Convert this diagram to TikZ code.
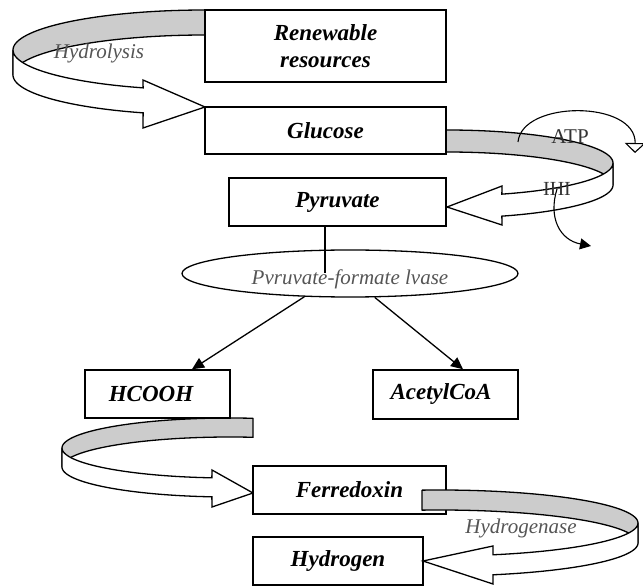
\documentclass[tikz,border=0pt]{standalone}
\usepackage{fontspec}
\setmainfont{Liberation Serif}
\usetikzlibrary{arrows.meta,shapes.geometric}
\definecolor{bandgray}{HTML}{CCCCCC}
\definecolor{labgray}{HTML}{555555}
\definecolor{atpgray}{HTML}{333333}
\begin{document}
\begin{tikzpicture}[x=1pt,y=-1pt,
  box/.style={draw=black, line width=1.5pt, fill=white, rectangle, inner sep=0pt,
    font=\fontsize{23}{27}\selectfont\bfseries\itshape, align=center},
  band/.style={draw=black, line width=1.3pt, fill=bandgray, line join=round},
  front/.style={draw=black, line width=1.3pt, fill=white, line join=miter},
  lab/.style={font=\fontsize{21}{25}\selectfont\itshape, text=labgray, inner sep=0pt},
  conn/.style={draw=black, line width=1.3pt, -{Triangle[length=12pt,width=11pt]}},
  thinarrow/.style={draw=black, line width=1.1pt},
  pl/.style={samples=40, variable=\t}
]
\useasboundingbox (0,0) rectangle (643,588);

% ribbon 1: Renewable resources -> Glucose (Hydrolysis)
\path[band] plot[pl, domain=275:180] ({205+192*cos(\t)},{50+40*sin(\t)})
  -- plot[pl, domain=180:275] ({205+192*cos(\t)},{75+40*sin(\t)}) -- cycle;
\path[front] plot[pl, domain=180:108.8] ({205+192*cos(\t)},{50+40*sin(\t)})
  -- (143,80) -- (205,107) -- (143,128)
  -- plot[pl, domain=108.8:180] ({205+192*cos(\t)},{75+40*sin(\t)}) -- cycle;

% ribbon 2: Glucose -> Pyruvate
\path[band] plot[pl, domain=265:360] ({447+166*cos(\t)},{163+33*sin(\t)})
  -- plot[pl, domain=360:265] ({447+166*cos(\t)},{185+33*sin(\t)}) -- cycle;
\path[front] plot[pl, domain=0:70.7] ({447+166*cos(\t)},{163+33*sin(\t)})
  -- (502,186) -- (447,207) -- (502,225)
  -- plot[pl, domain=70.7:0] ({447+166*cos(\t)},{185+33*sin(\t)}) -- cycle;

% ribbon 3: HCOOH -> Ferredoxin
\path[band] plot[pl, domain=277.9:180] ({230+168*cos(\t)},{448+30*sin(\t)})
  -- plot[pl, domain=180:277.9] ({230+168*cos(\t)},{467+30*sin(\t)}) -- cycle;
\path[front] plot[pl, domain=180:96.2] ({230+168*cos(\t)},{448+30*sin(\t)})
  -- (212,470) -- (253,493) -- (212,507)
  -- plot[pl, domain=96.2:180] ({230+168*cos(\t)},{467+30*sin(\t)}) -- cycle;

% boxes
\node[box, minimum width=241pt, minimum height=72pt] (ren) at (325.5,46) {Renewable\\resources};
\node[box, minimum width=241pt, minimum height=47pt] (glu) at (325.5,130.5) {Glucose};
\node[box, minimum width=217pt, minimum height=48pt] (pyr) at (337.5,202) {Pyruvate};
\node[draw=black, ellipse, line width=1.3pt, fill=white, minimum width=336pt, minimum height=47pt,
  inner sep=0pt, text height=23pt, text depth=0pt,
  font=\fontsize{21}{25}\selectfont\itshape, text=labgray] (ell) at (350,273.5) {Pvruvate-formate lvase};
\node[box, minimum width=145pt, minimum height=48pt] (hc) at (157.5,394) {HCOOH\hspace*{13pt}};
\node[box, minimum width=145pt, minimum height=49pt] (ac) at (445.5,394.5) {AcetylCoA\hspace*{9pt}};
\node[box, minimum width=193pt, minimum height=48pt] (fe) at (349.5,490) {Ferredoxin};
\node[box, minimum width=170pt, minimum height=48pt] (hy) at (338,561) {Hydrogen};

% ribbon 4: Ferredoxin -> Hydrogen (drawn over Ferredoxin)
\path[band] plot[pl, domain=264.8:360] ({440+198*cos(\t)},{523+33*sin(\t)})
  -- plot[pl, domain=360:264.8] ({440+198*cos(\t)},{543+33*sin(\t)}) -- cycle;
\path[front] plot[pl, domain=0:74.5] ({440+198*cos(\t)},{523+33*sin(\t)})
  -- (493,546) -- (423,561) -- (493,584)
  -- plot[pl, domain=74.5:0] ({440+198*cos(\t)},{543+33*sin(\t)}) -- cycle;

% pyruvate to lyase line and branch arrows
\coordinate (plx) at (325,273);
\draw[line width=1.3pt] (pyr.south -| plx) -- (plx);
\coordinate (hcx) at (192,0);
\coordinate (acx) at (463,0);
\draw[conn] (ell.207) -- (hc.north -| hcx);
\draw[conn] (ell.316) -- (ac.north -| acx);

% ATP / ADP side arrows
\coordinate (atp0) at (518,142);
\coordinate (atp1) at (635,153);
\draw[thinarrow, -{Triangle[length=10pt,width=21pt,fill=white]}] (atp0) .. controls (522,100) and (636,100) .. (atp1);
\coordinate (adp0) at (557,189);
\coordinate (adp1) at (591,246);
\draw[thinarrow, -{Triangle[length=11pt,width=11pt]}] (adp0) .. controls (548,218) and (560,240) .. (adp1);

% labels
\node[lab] (hydl) at (99,53) {Hydrolysis};
\node[lab] (hgl) at (521,528) {Hydrogenase};
\node[inner sep=0pt, font=\fontsize{21}{25}\selectfont, text=atpgray] (atp) at (570,137) {ATP};
\node[inner sep=0pt, font=\fontsize{20}{24}\selectfont, text=atpgray] (adp) at (557,189) {IHI};
\end{tikzpicture}
\end{document}
